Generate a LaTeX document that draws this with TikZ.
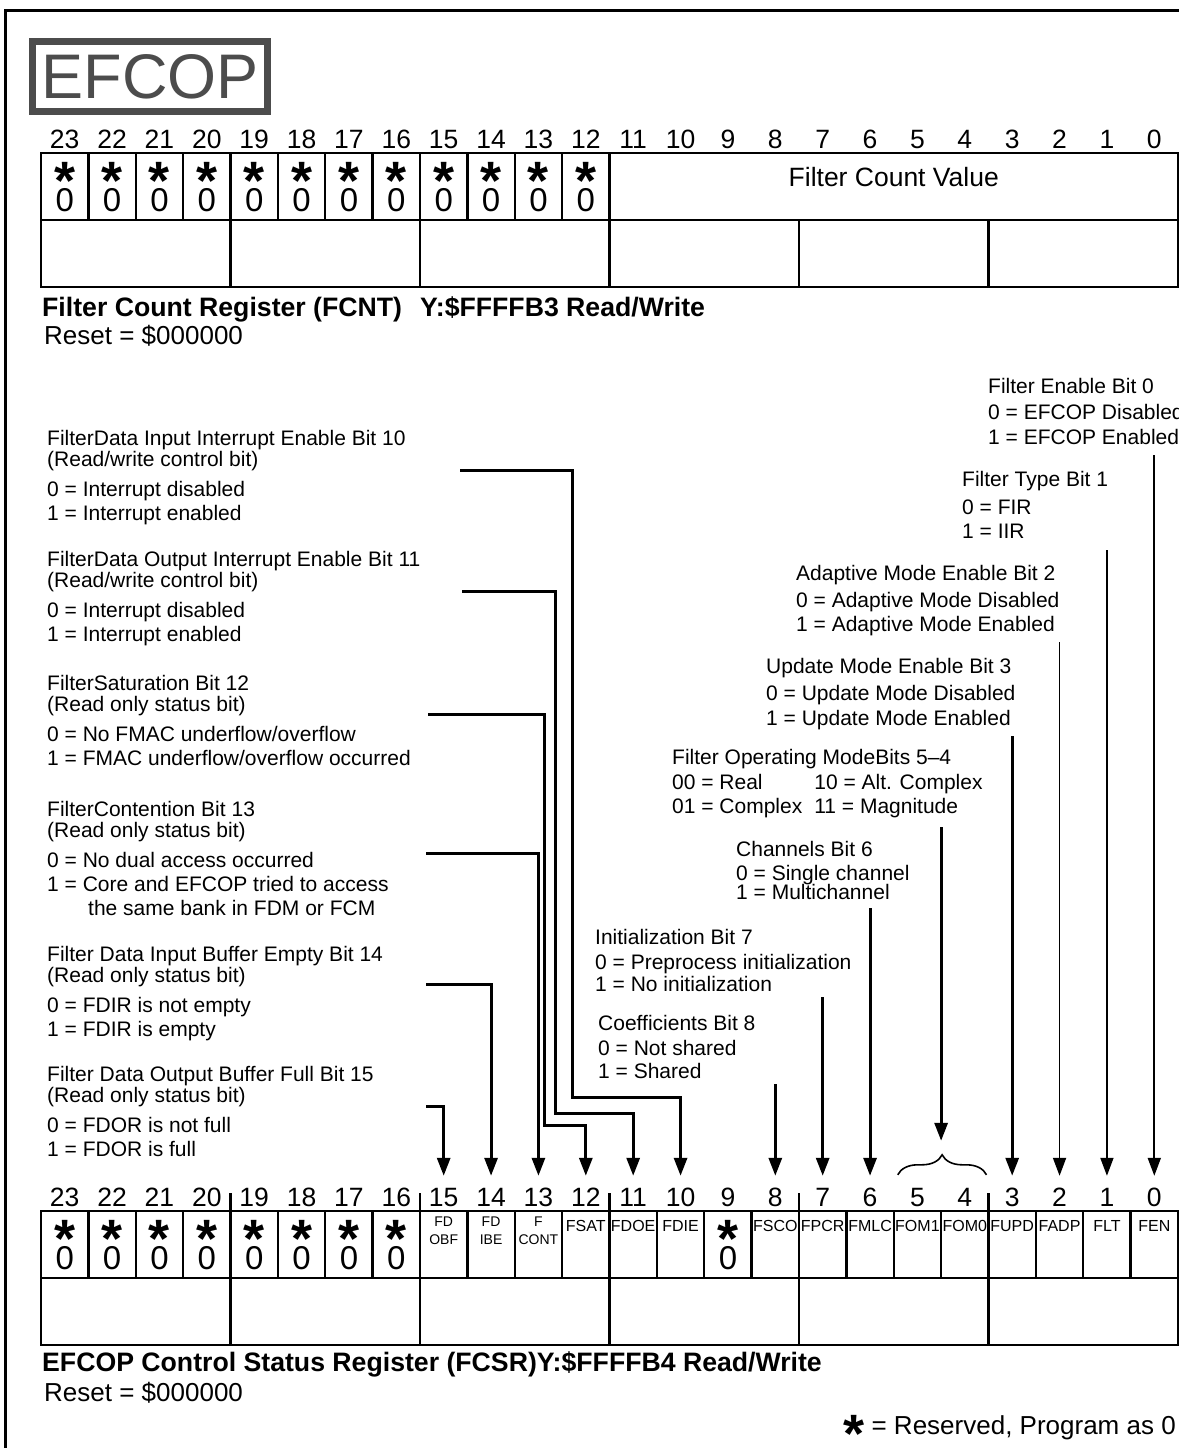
\documentclass[tikz,border=0pt]{standalone}
\usepackage{fontspec}
\setmainfont{Liberation Sans}
\usepackage{tikz}
\usetikzlibrary{arrows.meta}
\usetikzlibrary{fit, matrix, decorations.pathreplacing}

\newcommand{\nfont}{\fontsize{13.25pt}{15pt}\selectfont}
\newcommand{\zfont}{\fontsize{16.5pt}{18pt}\selectfont}
\newcommand{\dfont}{\fontsize{10.5pt}{10.4pt}\selectfont}
\newcommand{\hfont}{\fontsize{13.33pt}{15pt}\selectfont\bfseries}
\newcommand{\rfont}{\fontsize{13pt}{15pt}\selectfont}
\newcommand{\rstar}{{\fontsize{27pt}{27pt}\selectfont\bfseries *}}
\newcommand{\rz}{\makebox[0pt]{\zfont 0}\makebox[0pt]{\raisebox{5.9pt}{\rstar}}}

\tikzstyle{bitno}=[minimum width=23.6875pt, minimum height=15.2pt, inner sep=0pt, outer sep=0pt, text height=9.6pt, text depth=0pt, font=\nfont]
\tikzstyle{resv}=[draw, minimum width=23.6875pt, inner sep=0pt, outer sep=0pt, text height=29.25pt, text depth=4.25pt]
\tikzstyle{flag}=[draw, minimum width=23.6875pt, inner sep=0pt, outer sep=0pt, text height=10pt, text depth=23.5pt, font=\fontsize{8pt}{9pt}\selectfont]
\tikzstyle{flagtwo}=[flag, text height=16.6pt, text depth=16.9pt, font=\fontsize{7pt}{8pt}\selectfont]
\tikzstyle{blank}=[draw, draw opacity=0, minimum width=23.6875pt, minimum height=33.5pt, inner sep=0pt, outer sep=0pt]
\tikzstyle{desc}=[anchor=north west, align=left, inner sep=0pt, font=\dfont]
\tikzstyle{head}=[anchor=base west, inner sep=0pt, font=\hfont]

\begin{document}
\begin{tikzpicture}[x=0.5pt, y=-0.5pt]

\tikzset{>={Triangle[length=9pt, width=6.5pt]}}
\tikzset{every path/.style={line width=1.2pt}}
\tikzset{conn/.style={->, line width=1.5pt, shorten >=3pt}}
\tikzset{thinconn/.style={conn, line width=0.9pt}}

\useasboundingbox (0,0) rectangle (1179,1448);

% Page frame and title
\draw[line width=1.5pt] (5,1448) -- (5,10) -- (1179,10);
\node[draw=black!70, line width=3.5pt, text=black!70, minimum width=117.5pt, minimum height=35pt, inner sep=0pt, font=\fontsize{31.5pt}{32pt}\selectfont] (efcop) at (150,76.5) {EFCOP};

% FCNT register
\matrix (fc) [
    ampersand replacement=\&,
    matrix of nodes,
    nodes in empty cells,
    column sep=-1.2pt,
    row sep=-1.2pt,
    inner sep=0pt,
    outer sep=0pt,
    anchor=north west,
    nodes={anchor=center},
    row 1/.style={nodes=bitno},
    row 3/.style={nodes=blank},
] at (39.8,123.8)
{
    23 \& 22 \& 21 \& 20 \& 19 \& 18 \& 17 \& 16 \& 15 \& 14 \& 13 \& 12 \& 11 \& 10 \& 9 \& 8 \& 7 \& 6 \& 5 \& 4 \& 3 \& 2 \& 1 \& 0 \\
    |[resv]| \rz \& |[resv]| \rz \& |[resv]| \rz \& |[resv]| \rz \&
    |[resv]| \rz \& |[resv]| \rz \& |[resv]| \rz \& |[resv]| \rz \&
    |[resv]| \rz \& |[resv]| \rz \& |[resv]| \rz \& |[resv]| \rz \&
    |[blank]| \& |[blank]| \& |[blank]| \& |[blank]| \&
    |[blank]| \& |[blank]| \& |[blank]| \& |[blank]| \&
    |[blank]| \& |[blank]| \& |[blank]| \& |[blank]| \\
    \& \& \& \& \& \& \& \& \& \& \& \& \& \& \& \& \& \& \& \& \& \& \& \\
};

\node[draw, fit=(fc-2-13) (fc-2-24), inner sep=0pt, font=\nfont] (fcval) {Filter Count Value};
\node[draw, fit=(fc-3-1) (fc-3-4), inner sep=0pt] (fcg1) {};
\node[draw, fit=(fc-3-5) (fc-3-8), inner sep=0pt] (fcg2) {};
\node[draw, fit=(fc-3-9) (fc-3-12), inner sep=0pt] (fcg3) {};
\node[draw, fit=(fc-3-13) (fc-3-16), inner sep=0pt] (fcg4) {};
\node[draw, fit=(fc-3-17) (fc-3-20), inner sep=0pt] (fcg5) {};
\node[draw, fit=(fc-3-21) (fc-3-24), inner sep=0pt] (fcg6) {};

\node[head] (fcnt) at (41,316) {Filter Count Register (FCNT)\hspace{9pt}Y:\$FFFFB3 Read/Write};
\node[head, font=\rfont] (fcntrst) at (43,344) {Reset = \$000000};

% FCSR register
\matrix (cs) [
    ampersand replacement=\&,
    matrix of nodes,
    nodes in empty cells,
    column sep=-1.2pt,
    row sep=-1.2pt,
    inner sep=0pt,
    outer sep=0pt,
    anchor=north west,
    nodes={anchor=center},
    row 1/.style={nodes=bitno},
    row 3/.style={nodes=blank},
] at (39.8,1181.8)
{
    23 \& 22 \& 21 \& 20 \& 19 \& 18 \& 17 \& 16 \& 15 \& 14 \& 13 \& 12 \& 11 \& 10 \& 9 \& 8 \& 7 \& 6 \& 5 \& 4 \& 3 \& 2 \& 1 \& 0 \\
    |[resv]| \rz \& |[resv]| \rz \& |[resv]| \rz \& |[resv]| \rz \&
    |[resv]| \rz \& |[resv]| \rz \& |[resv]| \rz \& |[resv]| \rz \&
    |[flagtwo]| \shortstack{FD\\[0.8pt]OBF} \&
    |[flagtwo]| \shortstack{FD\\[0.8pt]IBE} \&
    |[flagtwo]| \shortstack{F\\[0.8pt]CONT} \&
    |[flag]| FSAT \&
    |[flag]| FDOE \& |[flag]| FDIE \& |[resv]| \rz \& |[flag]| FSCO \&
    |[flag]| FPCR \& |[flag]| FMLC \& |[flag]| FOM1 \& |[flag]| FOM0 \&
    |[flag]| FUPD \& |[flag]| FADP \& |[flag]| FLT \& |[flag]| FEN \\
    \& \& \& \& \& \& \& \& \& \& \& \& \& \& \& \& \& \& \& \& \& \& \& \\
};

\node[draw, fit=(cs-3-1) (cs-3-4), inner sep=0pt] (csg1) {};
\node[draw, fit=(cs-3-5) (cs-3-8), inner sep=0pt] (csg2) {};
\node[draw, fit=(cs-3-9) (cs-3-12), inner sep=0pt] (csg3) {};
\node[draw, fit=(cs-3-13) (cs-3-16), inner sep=0pt] (csg4) {};
\node[draw, fit=(cs-3-17) (cs-3-20), inner sep=0pt] (csg5) {};
\node[draw, fit=(cs-3-21) (cs-3-24), inner sep=0pt] (csg6) {};

% nibble ticks over the numbers
\draw (cs-2-4.north east) -- ++(0,-18);
\draw (cs-2-8.north east) -- ++(0,-18);
\draw (cs-2-12.north east) -- ++(0,-18);
\draw (cs-2-16.north east) -- ++(0,-18);
\draw (cs-2-20.north east) -- ++(0,-18);

\node[head] (fcsr) at (41,1371) {EFCOP Control Status Register (FCSR)Y:\$FFFFB4 Read/Write};
\node[head, font=\rfont] (fcsrrst) at (43,1401) {Reset = \$000000};
\node[anchor=base east, inner sep=0pt, font=\rfont] (resnote) at (1177,1434) {\raisebox{-9pt}{\rstar} = Reserved, Program as 0};

% Bit descriptions, left column
\node[desc] (fdie) at (46,429) {FilterData Input Interrupt Enable Bit 10\\(Read/write control bit)\\[4.6pt]0 = Interrupt disabled\\[1.6pt]1 = Interrupt enabled};
\node[desc] (fdoe) at (46,550) {FilterData Output Interrupt Enable Bit 11\\(Read/write control bit)\\[4.6pt]0 = Interrupt disabled\\[1.6pt]1 = Interrupt enabled};
\node[desc] (fsat) at (46,674) {FilterSaturation Bit 12\\(Read only status bit)\\[4.6pt]0 = No FMAC underflow/overflow\\[1.6pt]1 = FMAC underflow/overflow occurred};
\node[desc] (fcont) at (46,800) {FilterContention Bit 13\\(Read only status bit)\\[4.6pt]0 = No dual access occurred\\[1.6pt]1 = Core and EFCOP tried to access\\[1.6pt]\hspace*{20.5pt}the same bank in FDM or FCM};
\node[desc] (fdibe) at (46,945) {Filter Data Input Buffer Empty Bit 14\\(Read only status bit)\\[4.6pt]0 = FDIR is not empty\\[1.6pt]1 = FDIR is empty};
\node[desc] (fdobf) at (46,1065) {Filter Data Output Buffer Full Bit 15\\(Read only status bit)\\[4.6pt]0 = FDOR is not full\\[1.6pt]1 = FDOR is full};

% Bit descriptions, right side
\node[desc] (fen) at (987,377) {Filter Enable Bit 0\\[2.6pt]0 = EFCOP Disabled\\[2.1pt]1 = EFCOP Enabled};
\node[desc] (flt) at (961,470) {Filter Type Bit 1\\[3.6pt]0 = FIR\\[1.6pt]1 = IIR};
\node[desc] (fadp) at (795,564) {Adaptive Mode Enable Bit 2\\[3.1pt]0 = Adaptive Mode Disabled\\[1.6pt]1 = Adaptive Mode Enabled};
\node[desc] (fupd) at (765,657) {Update Mode Enable Bit 3\\[3.1pt]0 = Update Mode Disabled\\[2.1pt]1 = Update Mode Enabled};
\node[desc] (fom) at (671,748) {\begin{tabular}{@{}l@{\hspace{6pt}}l@{}}\multicolumn{2}{@{}l@{}}{Filter Operating ModeBits 5\textendash 4}\\[1.6pt]00 = Real & 10 = Alt. Complex\\[1.6pt]01 = Complex & 11 = Magnitude\end{tabular}};
\node[desc] (fmlc) at (735,840) {Channels Bit 6\\[1.6pt]0 = Single channel\\[-0.8pt]1 = Multichannel};
\node[desc] (fpcr) at (594,928) {Initialization Bit 7\\[2.1pt]0 = Preprocess initialization\\[0.6pt]1 = No initialization};
\node[desc] (fsco) at (597,1014) {Coefficients Bit 8\\[2.1pt]0 = Not shared\\[1.1pt]1 = Shared};

% Connector start points
\coordinate (fdie-s) at (460,470);
\coordinate (fdoe-s) at (462,591);
\coordinate (fsat-s) at (428,714);
\coordinate (fcont-s) at (426,853);
\coordinate (fdibe-s) at (426,984);
\coordinate (fdobf-s) at (426,1106);
\coordinate (fen-s) at (cs-1-24.north |- 0,455);
\coordinate (flt-s) at (cs-1-23.north |- 0,550);
\coordinate (fadp-s) at (cs-1-22.north |- 0,642);
\coordinate (fupd-s) at (cs-1-21.north |- 0,736);
\coordinate (fom-s) at (cs-1-19.north east |- 0,827);
\coordinate (fom-t) at ([yshift=14.5pt]cs-1-19.north east);
\coordinate (fmlc-s) at (cs-1-18.north |- 0,908);
\coordinate (fpcr-s) at (cs-1-17.north |- 0,997);
\coordinate (fsco-s) at (cs-1-16.north |- 0,1084);

% Brace over bits 5-4
\draw[line width=0.8pt, decorate, decoration={brace, amplitude=10pt}] ([xshift=2pt, yshift=3.5pt]cs-1-19.north west) -- ([xshift=-1pt, yshift=3.5pt]cs-1-20.north east);

% Arrows to the FCSR bits
\draw[conn] (fdie-s) -- ++(112,0) -- ++(0,627) -| (cs-1-14.north); % FDIE
\draw[conn] (fdoe-s) -- ++(93,0) -- ++(0,522) -| (cs-1-13.north); % FDOE
\draw[conn] (fsat-s) -- ++(116,0) -- ++(0,411) -| (cs-1-12.north); % FSAT
\draw[conn] (fcont-s) -| (cs-1-11.north); % FCONT
\draw[conn] (fdibe-s) -| (cs-1-10.north); % FDIBE
\draw[conn] (fdobf-s) -| (cs-1-9.north); % FDOBF
\draw[conn] (fsco-s) -- (cs-1-16.north); % FSCO
\draw[conn] (fpcr-s) -- (cs-1-17.north); % FPCR
\draw[conn] (fmlc-s) -- (cs-1-18.north); % FMLC
\draw[conn, shorten >=6pt] (fom-s) -- (fom-t); % FOM1:FOM0
\draw[conn] (fupd-s) -- (cs-1-21.north); % FUPD
\draw[thinconn] (fadp-s) -- (cs-1-22.north); % FADP
\draw[thinconn] (flt-s) -- (cs-1-23.north); % FLT
\draw[thinconn] (fen-s) -- (cs-1-24.north); % FEN

\end{tikzpicture}
\end{document}
